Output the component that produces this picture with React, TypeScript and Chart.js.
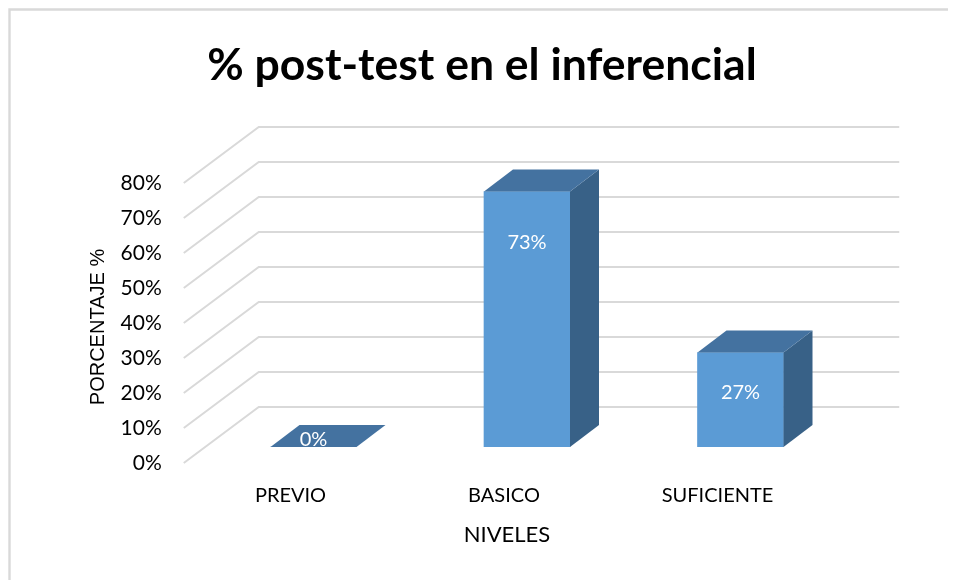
import React, { useEffect, useRef } from "react";
import { Chart, registerables } from "chart.js";

Chart.register(...registerables);

const chartTitle = "% post-test en el inferencial";
const categories = ["PREVIO", "BASICO", "SUFICIENTE"];
const values = [0, 73, 27];
const yMin = 0;
const yMax = 80;
const yStep = 10;
const xAxisTitle = "NIVELES";
const yAxisTitle = "PORCENTAJE %";

const FRONT_COLOR = "#5b9bd5";
const TOP_COLOR = "#4472a0";
const SIDE_COLOR = "#386187";
const GRID_COLOR = "#d9d9d9";

// 3D projection offsets relative to the bar plane
const FRONT = { x: -23, y: 16 };
const BACK = { x: 52, y: -40 };
const DEPTH = { x: 29, y: -22 };

const wallPlugin = {
  id: "wall3d",
  beforeDraw(chart: any) {
    const { ctx } = chart;
    ctx.save();
    ctx.strokeStyle = GRID_COLOR;
    ctx.lineWidth = 2.4;
    ctx.beginPath();
    ctx.moveTo(1.5, chart.height + 5);
    ctx.lineTo(1.5, 1.5);
    ctx.lineTo(chart.width + 5, 1.5);
    ctx.stroke();
    ctx.restore();
  },
  beforeDatasetsDraw(chart: any) {
    const { ctx, chartArea, scales } = chart;
    const y = scales.y;
    ctx.save();
    ctx.strokeStyle = GRID_COLOR;
    ctx.lineWidth = 2;
    y.ticks.forEach((t: any) => {
      const py = y.getPixelForValue(t.value);
      ctx.beginPath();
      ctx.moveTo(chartArea.left + FRONT.x, py + FRONT.y);
      ctx.lineTo(chartArea.left + BACK.x, py + BACK.y);
      ctx.lineTo(chartArea.right + BACK.x, py + BACK.y);
      ctx.stroke();
    });
    ctx.restore();
  },
  afterDatasetsDraw(chart: any) {
    const { ctx } = chart;
    const meta = chart.getDatasetMeta(0);
    ctx.save();
    meta.data.forEach((el: any, i: number) => {
      const { x, y, base, width } = el.getProps(["x", "y", "base", "width"], true);
      const l = x - width / 2;
      const r = x + width / 2;
      ctx.fillStyle = SIDE_COLOR;
      ctx.beginPath();
      ctx.moveTo(r, y);
      ctx.lineTo(r + DEPTH.x, y + DEPTH.y);
      ctx.lineTo(r + DEPTH.x, base + DEPTH.y);
      ctx.lineTo(r, base);
      ctx.closePath();
      ctx.fill();
      ctx.fillStyle = TOP_COLOR;
      ctx.beginPath();
      ctx.moveTo(l, y);
      ctx.lineTo(r, y);
      ctx.lineTo(r + DEPTH.x, y + DEPTH.y);
      ctx.lineTo(l + DEPTH.x, y + DEPTH.y);
      ctx.closePath();
      ctx.fill();
      const v = values[i];
      const h = base - y;
      const ly = v > 0 ? y + 34 + 0.068 * h : y - 7;
      ctx.fillStyle = "#ffffff";
      ctx.font = "20px Lato";
      ctx.textAlign = "center";
      ctx.textBaseline = "middle";
      ctx.fillText(v + "%", x, ly);
    });
    ctx.restore();
  },
  afterDraw(chart: any) {
    const { ctx, chartArea } = chart;
    ctx.save();
    ctx.fillStyle = "#000000";
    ctx.textAlign = "center";
    ctx.textBaseline = "middle";
    ctx.save();
    ctx.translate(90, 319);
    ctx.rotate(-Math.PI / 2);
    ctx.font = "20px 'Liberation Sans'";
    ctx.fillText(yAxisTitle, 0, 0);
    ctx.restore();
    ctx.font = "22px Lato";
    ctx.fillText(xAxisTitle, (chartArea.left + chartArea.right) / 2 + FRONT.x + 3, 527);
    ctx.restore();
  },
};

export default function App() {
  const ref = useRef<HTMLCanvasElement | null>(null);

  useEffect(() => {
    document.documentElement.style.overflow = "hidden";
    const canvas = ref.current;
    if (!canvas) return;
    const chart = new Chart(canvas, {
      type: "bar",
      data: {
        labels: categories,
        datasets: [
          {
            data: values,
            backgroundColor: FRONT_COLOR,
            borderWidth: 0,
            barThickness: 86,
          },
        ],
      },
      options: {
        responsive: false,
        animation: false,
        events: [],
        layout: { padding: 0 },
        plugins: {
          legend: { display: false },
          tooltip: { enabled: false },
          title: {
            display: true,
            text: chartTitle,
            color: "#000000",
            font: { family: "Lato", size: 44.5, weight: "bold", lineHeight: 1.2 },
            padding: { top: 31, bottom: 74.6 },
          },
        },
        scales: {
          x: {
            grid: { display: false, drawTicks: false },
            border: { display: false },
            ticks: {
              color: "#000000",
              font: { family: "Lato", size: 20 },
              padding: 37,
              labelOffset: -23,
            },
            afterFit: (s: any) => {
              s.height = 133;
            },
          },
          y: {
            min: yMin,
            max: yMax,
            grid: { display: false, drawTicks: false },
            border: { display: false },
            ticks: {
              stepSize: yStep,
              color: "#000000",
              font: { family: "Lato", size: 21 },
              padding: 45,
              labelOffset: 16,
              callback: (v: any) => v + "%",
            },
            afterFit: (s: any) => {
              s.width = 198.75;
            },
          },
          yRight: {
            type: "linear",
            position: "right",
            display: true,
            min: yMin,
            max: yMax,
            grid: { display: false, drawTicks: false },
            border: { display: false },
            ticks: { display: false },
            afterFit: (s: any) => {
              s.width = 108.75;
            },
          },
        },
      },
      plugins: [wallPlugin],
    });
    return () => chart.destroy();
  }, []);

  return (
    <canvas
      ref={ref}
      width={948}
      height={572}
      style={{ display: "block", width: 948, height: 572 }}
    />
  );
}
